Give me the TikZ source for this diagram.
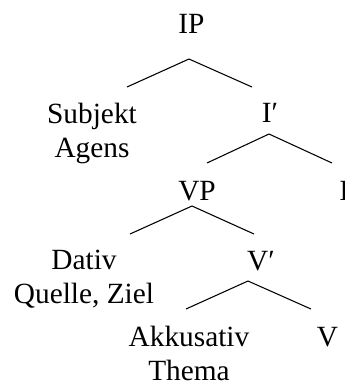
\documentclass[tikz,border=0pt]{standalone}
\usepackage{fontspec}
\setmainfont{Liberation Serif}
\begin{document}
\begin{tikzpicture}[x=0.75pt,y=-0.75pt,
  lbl/.style={anchor=base,inner sep=0pt,align=center,
    font=\fontsize{22}{25.5}\selectfont},
  branch/.style={line width=0.8pt}]
\useasboundingbox (0,0) rectangle (344,383);

% labels of the tree (two-line labels sit on the baseline of their last line)
\node[lbl] (ip)   at (191.5,33)  {IP};
\node[lbl] (subj) at (92,157)    {Subjekt\\Agens};
\node[lbl] (ibar) at (270,122)   {I′};
\node[lbl] (vp)   at (197,200)   {VP};
\node[lbl,anchor=base west] (infl) at (339,200) {I};
\node[lbl] (dat)  at (84,303)    {Dativ\\Quelle, Ziel};
\node[lbl] (vbar) at (261,270)   {V′};
\node[lbl] (akk)  at (189,380)   {Akkusativ\\Thema};
\node[lbl] (verb) at (327.5,346) {V};

% fork points under each mother and branch ends above each daughter
\coordinate (ip-fork)   at (189,59);
\coordinate (subj-top)  at (127,87);
\coordinate (ibar-top)  at (252,87);
\coordinate (ibar-fork) at (269,134);
\coordinate (vp-top)    at (207,163);
\coordinate (infl-top)  at (332,163);
\coordinate (vp-fork)   at (192,206);
\coordinate (dat-top)   at (130,234);
\coordinate (vbar-top)  at (254,234);
\coordinate (vbar-fork) at (248,281);
\coordinate (akk-top)   at (186,309);
\coordinate (verb-top)  at (311,309);

% branches
\draw[branch] (subj-top) -- (ip-fork) -- (ibar-top);
\draw[branch] (vp-top) -- (ibar-fork) -- (infl-top);
\draw[branch] (dat-top) -- (vp-fork) -- (vbar-top);
\draw[branch] (akk-top) -- (vbar-fork) -- (verb-top);
\end{tikzpicture}
\end{document}
